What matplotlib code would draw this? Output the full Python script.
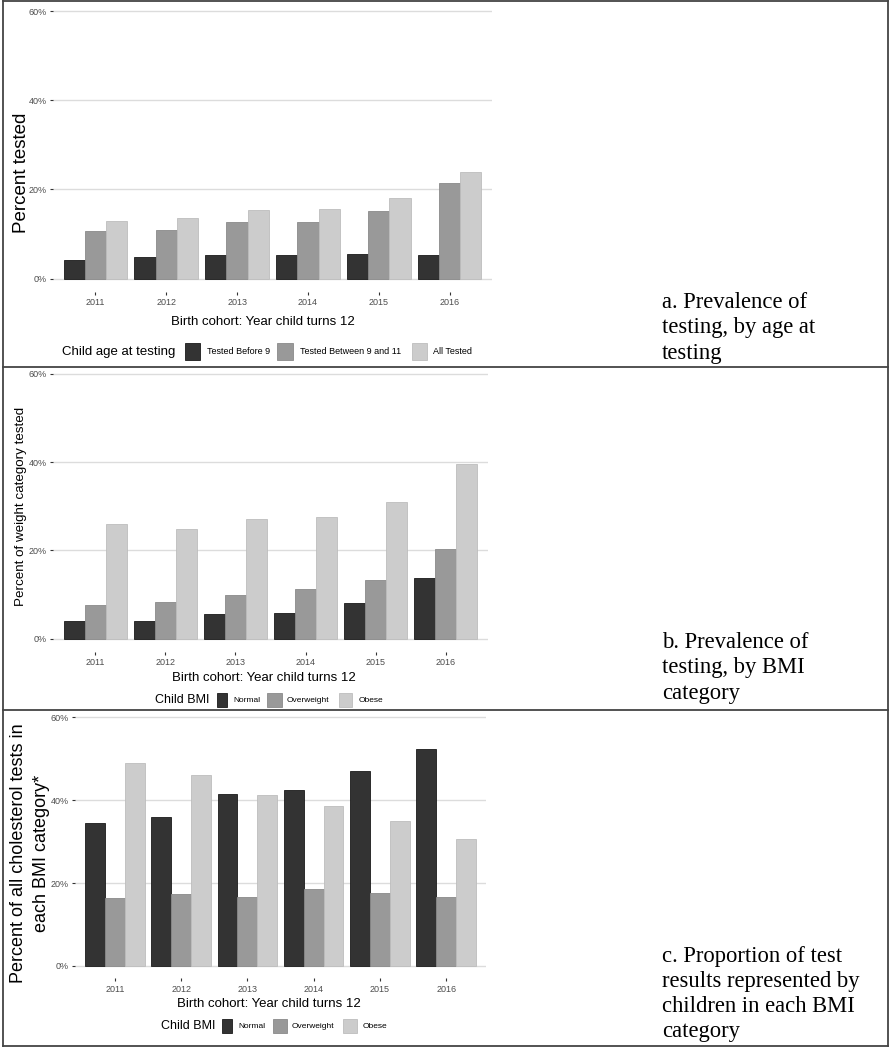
import numpy as np
import matplotlib.pyplot as plt
from matplotlib.patches import Rectangle
from matplotlib.lines import Line2D

plt.rcParams['font.family'] = ['Liberation Sans', 'DejaVu Sans']

years = ['2011', '2012', '2013', '2014', '2015', '2016']

# panel a: prevalence of testing by age at testing (%)
age_groups = ['Tested Before 9', 'Tested Between 9 and 11', 'All Tested']
before_9 = [4.1, 4.9, 5.3, 5.3, 5.4, 5.2]
between_9_11 = [10.6, 10.9, 12.7, 12.8, 15.1, 21.4]
all_tested = [13.0, 13.7, 15.4, 15.7, 18.2, 24.0]

# panel b: prevalence of testing by BMI category (%)
bmi_groups = ['Normal', 'Overweight', 'Obese']
b_normal = [4.1, 4.1, 5.7, 5.9, 8.1, 13.8]
b_overweight = [7.7, 8.3, 9.8, 11.3, 13.2, 20.4]
b_obese = [26.0, 24.9, 27.1, 27.6, 31.0, 39.5]

# panel c: share of all tests in each BMI category (%)
c_normal = [34.4, 36.0, 41.6, 42.5, 47.1, 52.4]
c_overweight = [16.3, 17.4, 16.7, 18.5, 17.5, 16.7]
c_obese = [49.0, 46.2, 41.3, 38.6, 35.1, 30.7]

fills = ['#333333', '#999999', '#cccccc']
edges = ['#1a1a1a', '#8a8a8a', '#bdbdbd']

W, H = 894, 1050
fig = plt.figure(figsize=(W / 100, H / 100), dpi=100)


def fx(x):
    return x / W


def fy(y):
    return 1 - y / H


def make_axes(left, right, y0, y60):
    per = (y0 - y60) / 60.0
    top = y60 - 3 * per
    bottom = y0 + 3 * per
    ax = fig.add_axes([fx(left), fy(bottom), (right - left) / W, (bottom - top) / H])
    ax.set_ylim(-3, 63)
    ax.set_xlim(0.4, 6.6)
    for s in ax.spines.values():
        s.set_visible(False)
    ax.set_yticks([0, 20, 40, 60])
    ax.set_yticklabels(['0%', '20%', '40%', '60%'])
    ax.set_xticks(np.arange(1, 7))
    ax.set_xticklabels(years)
    ax.tick_params(axis='both', labelsize=6.5, labelcolor='#4d4d4d',
                   color='#333333', length=2.5, width=0.8, pad=2)
    ax.grid(axis='y', color='#dcdcdc', lw=1.0)
    ax.set_axisbelow(True)
    return ax


def draw_bars(ax, series):
    x = np.arange(1, 7)
    for i, vals in enumerate(series):
        ax.bar(x + (i - 1) * 0.3, vals, width=0.3, color=fills[i],
               edgecolor=edges[i], linewidth=0.6)


def draw_legend(title, title_x, yc, keys, labels, label_xs, fsize, tsize, kh):
    fig.text(fx(title_x), fy(yc), title, fontsize=tsize, va='center', ha='left')
    for i, (k0, k1) in enumerate(keys):
        fig.patches.append(Rectangle((fx(k0), fy(yc + kh / 2)), (k1 - k0) / W, kh / H,
                                     transform=fig.transFigure, facecolor=fills[i],
                                     edgecolor=edges[i], lw=0.6))
        fig.text(fx(label_xs[i]), fy(yc), labels[i], fontsize=fsize,
                 va='center', ha='left')


# ---- panel a
ax_a = make_axes(53, 492, 278.5, 11.5)
draw_bars(ax_a, [before_9, between_9_11, all_tested])
fig.text(fx(22), fy(173), 'Percent tested', rotation=90, fontsize=13.5,
         va='center', ha='center')
fig.text(fx(263), fy(322), 'Birth cohort: Year child turns 12', fontsize=9.5,
         va='center', ha='center')
draw_legend('Child age at testing', 62, 352, [(185, 200), (277, 293), (412, 427)],
            age_groups, [207, 300, 433], 6.5, 9.5, 17)

# ---- panel b
ax_b = make_axes(53, 488, 638.7, 373.7)
draw_bars(ax_b, [b_normal, b_overweight, b_obese])
fig.text(fx(21), fy(506), 'Percent of weight category tested', rotation=90,
         fontsize=9.6, va='center', ha='center')
fig.text(fx(264), fy(678), 'Birth cohort: Year child turns 12', fontsize=9.5,
         va='center', ha='center')
draw_legend('Child BMI', 155, 700, [(217, 227), (267, 282), (339, 352)],
            bmi_groups, [233, 287, 359], 6, 9, 14)

# ---- panel c
ax_c = make_axes(75, 486, 966, 717.3)
draw_bars(ax_c, [c_normal, c_overweight, c_obese])
fig.text(fx(30), fy(853), 'Percent of all cholesterol tests in\neach BMI category*',
         rotation=90, fontsize=13, va='center', ha='center', linespacing=1.4)
fig.text(fx(269), fy(1004), 'Birth cohort: Year child turns 12', fontsize=9.5,
         va='center', ha='center')
draw_legend('Child BMI', 161, 1026, [(222, 232), (273, 287), (343, 357)],
            bmi_groups, [238, 292, 363], 6, 9, 14)

# ---- captions on the right
cap_kw = dict(family=['Liberation Serif', 'DejaVu Serif'], fontsize=16.3,
              va='center', ha='left', linespacing=1.27)
fig.text(fx(662), fy(328), 'a. Prevalence of\ntesting, by age at\ntesting', **cap_kw)
fig.text(fx(662), fy(668), 'b. Prevalence of\ntesting, by BMI\ncategory', **cap_kw)
fig.text(fx(662), fy(994), 'c. Proportion of test\nresults represented by\n'
         'children in each BMI\ncategory', **cap_kw)

# ---- table borders
bc = '#444444'
for (x0, y0, x1, y1) in [(3, 1, 888, 1), (3, 1046, 888, 1046), (3, 1, 3, 1046),
                         (888, 1, 888, 1046), (3, 367, 888, 367), (3, 710, 888, 710)]:
    fig.add_artist(Line2D([fx(x0), fx(x1)], [fy(y0), fy(y1)], color=bc, lw=1.3,
                          transform=fig.transFigure))

fig.savefig('out.png', dpi=100, facecolor='white')
